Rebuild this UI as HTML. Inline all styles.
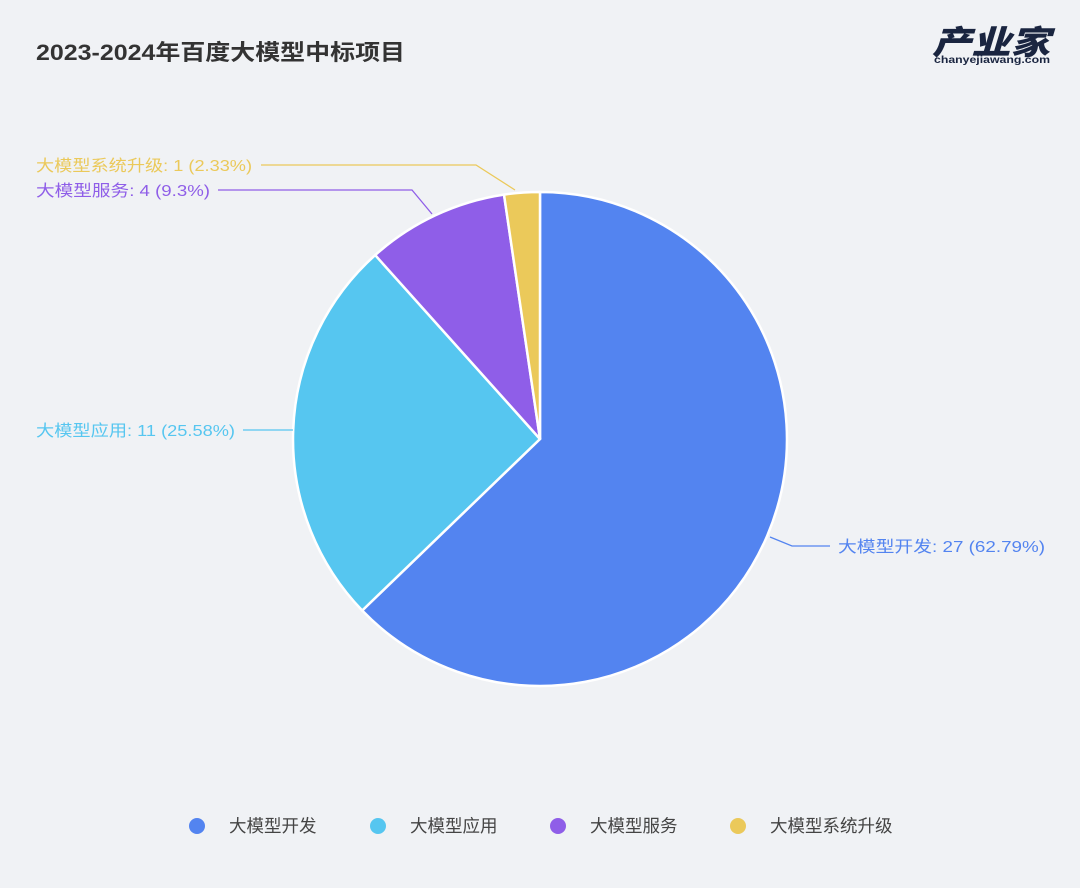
<!DOCTYPE html>
<html><head><meta charset="utf-8"><style>
html,body{margin:0;padding:0;background:#f0f2f5;}
body{width:1080px;height:888px;overflow:hidden;font-family:"Liberation Sans","Noto Sans CJK SC",sans-serif;}
</style></head><body>
<svg width="1080" height="888" xmlns="http://www.w3.org/2000/svg" style="display:block">
<rect width="1080" height="888" fill="#f0f2f5"/>
<text x="36" y="60" font-size="22" font-weight="bold" fill="#333" textLength="369" lengthAdjust="spacingAndGlyphs" font-family="Liberation Sans,Noto Sans CJK SC,sans-serif">2023-2024年百度大模型中标项目</text>
<text x="932" y="54" font-size="33" font-weight="900" font-style="italic" fill="#1a2540" textLength="118" lengthAdjust="spacingAndGlyphs" font-family="Noto Sans CJK SC,sans-serif">产业家</text>
<text x="934" y="63" font-size="10" font-weight="bold" fill="#1a2540" textLength="116" lengthAdjust="spacingAndGlyphs" font-family="Liberation Sans,sans-serif">chanyejiawang.com</text>
<g stroke="#fff" stroke-width="2.5" stroke-linejoin="round">
<path d="M540,439 L540,192 A247,247 0 1,1 362.2,610.5 Z" fill="#5384f0"/>
<path d="M540,439 L362.2,610.5 A247,247 0 0,1 375.2,255.1 Z" fill="#56c6f0"/>
<path d="M540,439 L375.2,255.1 A247,247 0 0,1 504,194.6 Z" fill="#8f5ee8"/>
<path d="M540,439 L504,194.6 A247,247 0 0,1 540,192 Z" fill="#ebc95a"/>
</g>
<g fill="none" stroke-width="1.3">
<polyline points="770,537 792,546 830,546" stroke="#5384f0"/>
<polyline points="293,430 243,430" stroke="#56c6f0"/>
<polyline points="432,214 412,190 218,190" stroke="#8f5ee8"/>
<polyline points="515,190 476,165 261,165" stroke="#ebc95a"/>
</g>
<g font-size="16" font-family="Liberation Sans,Noto Sans CJK SC,sans-serif" lengthAdjust="spacingAndGlyphs">
<text x="838" y="552" fill="#5384f0" textLength="207" lengthAdjust="spacingAndGlyphs">大模型开发: 27 (62.79%)</text>
<text x="36" y="436" fill="#56c6f0" textLength="199" lengthAdjust="spacingAndGlyphs">大模型应用: 11 (25.58%)</text>
<text x="36" y="196" fill="#8f5ee8" textLength="174" lengthAdjust="spacingAndGlyphs">大模型服务: 4 (9.3%)</text>
<text x="36" y="171" fill="#ebc95a" textLength="216" lengthAdjust="spacingAndGlyphs">大模型系统升级: 1 (2.33%)</text>
</g>
<g font-size="17.5" fill="#444" font-family="Liberation Sans,Noto Sans CJK SC,sans-serif">
<circle cx="197" cy="826" r="8" fill="#5384f0"/><text x="229" y="832">大模型开发</text>
<circle cx="378" cy="826" r="8" fill="#56c6f0"/><text x="410" y="832">大模型应用</text>
<circle cx="558" cy="826" r="8" fill="#8f5ee8"/><text x="590" y="832">大模型服务</text>
<circle cx="738" cy="826" r="8" fill="#ebc95a"/><text x="770" y="832">大模型系统升级</text>
</g>
</svg>
</body></html>
